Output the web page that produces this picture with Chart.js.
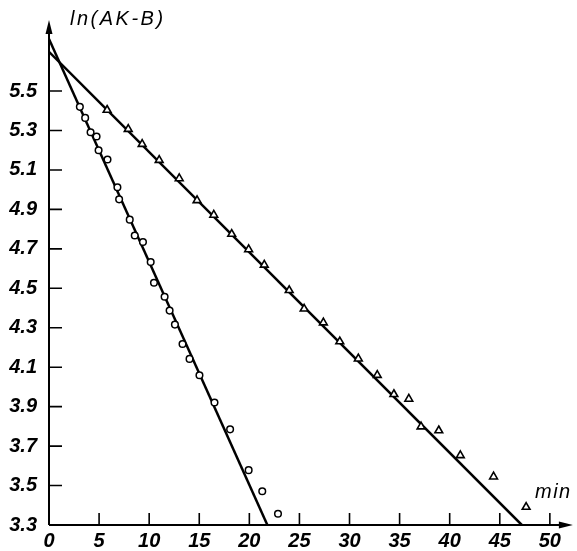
<!DOCTYPE html>
<html>
<head>
<meta charset="utf-8">
<script src="https://cdn.jsdelivr.net/npm/chart.js@4"></script>
<style>
  html, body { margin: 0; padding: 0; background: #fff; }
  #wrap { width: 577px; height: 551px; }
</style>
</head>
<body>
<div id="wrap"><canvas id="kinetics"></canvas></div>
<script>
// circles (fast series)
const circleT = [3.08, 3.61, 4.15, 4.75, 4.95, 5.84, 6.83, 7.0, 8.06, 8.56, 9.38, 10.15, 10.48, 11.54, 12.04, 12.57, 13.33, 14.03, 15.02, 16.52, 18.08, 19.93, 21.29, 22.86];
const circleV = [5.42, 5.364, 5.291, 5.27, 5.2, 5.153, 5.012, 4.951, 4.848, 4.768, 4.735, 4.633, 4.528, 4.457, 4.387, 4.316, 4.218, 4.142, 4.059, 3.921, 3.785, 3.578, 3.471, 3.357];

// triangles (slow series)
const triT = [5.8, 7.91, 9.3, 11.0, 13.0, 14.78, 16.45, 18.24, 19.93, 21.49, 23.98, 25.47, 27.39, 29.03, 30.88, 32.77, 34.43, 35.92, 37.14, 38.91, 41.06, 44.38, 47.63];
const triV = [5.404, 5.307, 5.231, 5.15, 5.057, 4.946, 4.872, 4.775, 4.697, 4.619, 4.49, 4.396, 4.326, 4.23, 4.143, 4.06, 3.963, 3.939, 3.799, 3.779, 3.653, 3.545, 3.391];

// fitted straight lines (end points)
const circleFitT = [0, 21.8];
const circleFitV = [5.764, 3.3];
const triFitT = [0, 47.2];
const triFitV = [5.699, 3.3];

const xTicks = [0, 5, 10, 15, 20, 25, 30, 35, 40, 45, 50];
const yTicks = [3.3, 3.5, 3.7, 3.9, 4.1, 4.3, 4.5, 4.7, 4.9, 5.1, 5.3, 5.5];

const toPts = (xs, ys) => xs.map((x, i) => ({ x: x, y: ys[i] }));

const tickFont = { family: '"Liberation Sans", Arial, sans-serif', size: 20, style: 'italic', weight: 'bold' };

// axis lines with arrows, inner tick marks, titles
const axesPlugin = {
    id: 'axesPlugin',
    afterDraw(chart) {
        const { ctx, chartArea: a, scales: { x, y } } = chart;
        const x0 = x.getPixelForValue(0);
        const y0 = y.getPixelForValue(3.3);
        ctx.save();
        ctx.strokeStyle = '#000';
        ctx.fillStyle = '#000';
        ctx.lineWidth = 2;
        ctx.beginPath();
        ctx.moveTo(x0, y0);
        ctx.lineTo(x0, a.top + 4);
        ctx.moveTo(x0, y0);
        ctx.lineTo(a.right - 4, y0);
        ctx.stroke();
        // arrow heads
        ctx.beginPath();
        ctx.moveTo(x0, a.top - 4);
        ctx.lineTo(x0 - 3.5, a.top + 10);
        ctx.lineTo(x0 + 3.5, a.top + 10);
        ctx.closePath();
        ctx.fill();
        ctx.beginPath();
        ctx.moveTo(a.right + 2, y0);
        ctx.lineTo(a.right - 12, y0 - 3.5);
        ctx.lineTo(a.right - 12, y0 + 3.5);
        ctx.closePath();
        ctx.fill();
        // tick marks pointing inward
        ctx.lineWidth = 1.6;
        ctx.beginPath();
        yTicks.slice(1).forEach(v => {
            const py = y.getPixelForValue(v);
            ctx.moveTo(x0, py);
            ctx.lineTo(x0 + 13, py);
        });
        xTicks.slice(1).forEach(v => {
            const px = x.getPixelForValue(v);
            ctx.moveTo(px, y0);
            ctx.lineTo(px, y0 - 12);
        });
        ctx.stroke();
        // titles
        ctx.font = 'italic 20px "Liberation Sans", Arial, sans-serif';
        ctx.textBaseline = 'middle';
        ctx.textAlign = 'left';
        ctx.letterSpacing = '2.5px';
        ctx.fillText('ln(AK-B)', 70, 19);
        ctx.letterSpacing = '1.5px';
        ctx.fillText('min', 535, 492);
        ctx.restore();
    }
};

new Chart(document.getElementById('kinetics'), {
    type: 'scatter',
    data: {
        datasets: [
            {
                data: toPts(circleT, circleV),
                pointStyle: 'circle',
                pointRadius: 3.3,
                borderColor: '#000',
                borderWidth: 1.5,
                backgroundColor: '#fff'
            },
            {
                data: toPts(triT, triV),
                pointStyle: 'triangle',
                pointRadius: 4.5,
                borderColor: '#000',
                borderWidth: 1.6,
                backgroundColor: '#fff'
            },
            {
                data: toPts(circleFitT, circleFitV),
                showLine: true,
                pointRadius: 0,
                borderColor: '#000',
                borderWidth: 2.5
            },
            {
                data: toPts(triFitT, triFitV),
                showLine: true,
                pointRadius: 0,
                borderColor: '#000',
                borderWidth: 2.5
            }
        ]
    },
    options: {
        responsive: true,
        maintainAspectRatio: false,
        animation: false,
        layout: { padding: { top: 15, right: 4, left: 0, bottom: 0 } },
        plugins: {
            legend: { display: false },
            tooltip: { enabled: false }
        },
        scales: {
            x: {
                type: 'linear',
                min: 0,
                max: 52.1,
                grid: { display: false, drawTicks: false },
                border: { display: false },
                afterBuildTicks: (s) => { s.ticks = xTicks.map(v => ({ value: v })); },
                afterFit: (s) => { s.height = 26; },
                ticks: {
                    color: '#000',
                    font: tickFont,
                    padding: 4,
                    maxRotation: 0,
                    autoSkip: false,
                    callback: (v) => String(v)
                }
            },
            y: {
                type: 'linear',
                min: 3.3,
                max: 5.84,
                grid: { display: false, drawTicks: false },
                border: { display: false },
                afterBuildTicks: (s) => { s.ticks = yTicks.map(v => ({ value: v })); },
                afterFit: (s) => { s.width = 49; },
                ticks: {
                    color: '#000',
                    font: tickFont,
                    padding: 12,
                    autoSkip: false,
                    callback: (v) => v.toFixed(1)
                }
            }
        }
    },
    plugins: [axesPlugin]
});
</script>
</body>
</html>
